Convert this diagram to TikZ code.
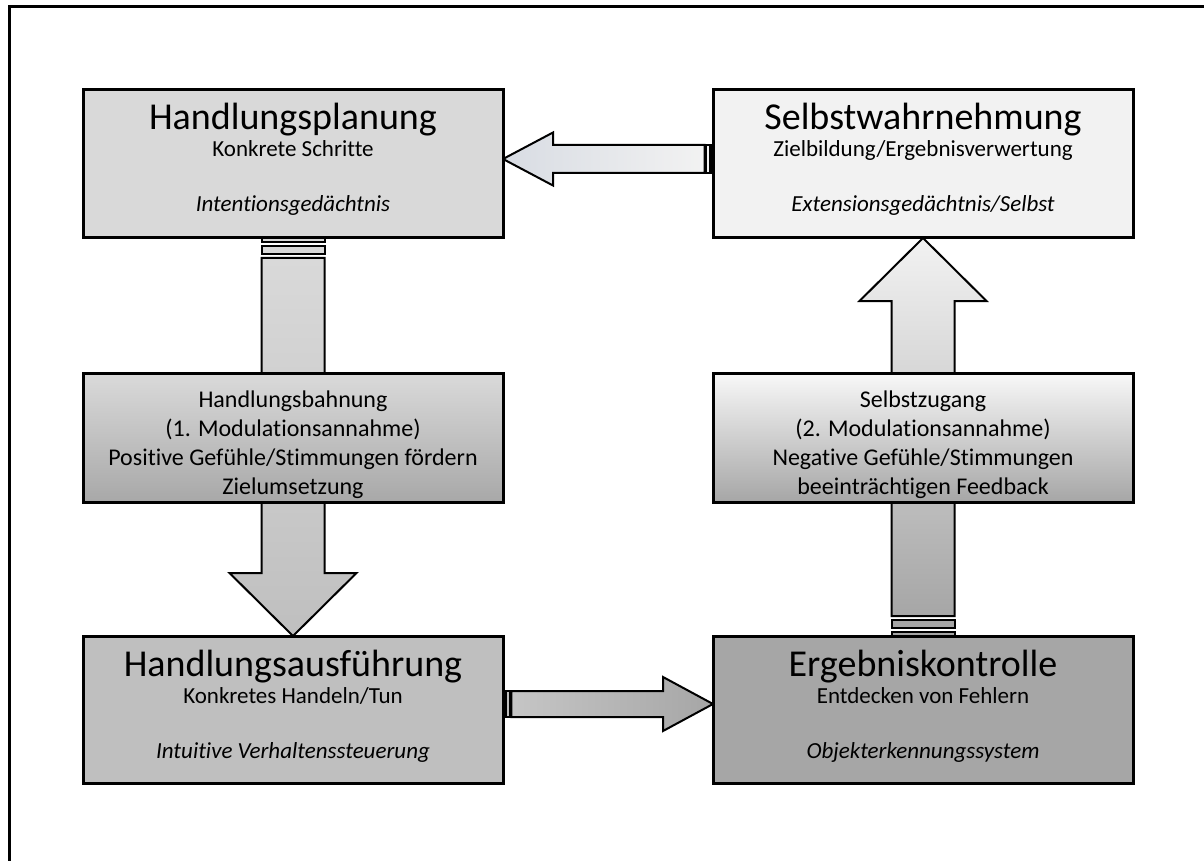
\documentclass[tikz,border=0pt]{standalone}
\usepackage{fontspec}
\setmainfont{Carlito}[Ligatures=NoCommon]
\usetikzlibrary{calc,backgrounds}

\definecolor{planfill}{HTML}{D9D9D9}
\definecolor{selffill}{HTML}{F2F2F2}
\definecolor{ausffill}{HTML}{BFBFBF}
\definecolor{kontfill}{HTML}{A6A6A6}
\definecolor{bahntop}{HTML}{DADADA}
\definecolor{bahnbot}{HTML}{A8A8A8}
\definecolor{zugtop}{HTML}{F8F8F8}
\definecolor{zugbot}{HTML}{A6A6A6}
\definecolor{arrblue}{HTML}{D8DCE3}

\begin{document}
\begin{tikzpicture}[x=0.5pt,y=-0.5pt,
  box/.style={draw=black, line width=1.5pt, minimum width=210pt, inner sep=0pt, outer sep=0pt},
  ttl/.style={anchor=base, inner sep=0pt, font=\fontsize{19}{21}\selectfont},
  sub/.style={anchor=base, inner sep=0pt, font=\fontsize{11.5}{13}\selectfont},
  mem/.style={anchor=base, inner sep=0pt, font=\fontsize{11.5}{13}\selectfont\itshape},
  mid/.style={anchor=base, inner sep=0pt, font=\fontsize{12}{14}\selectfont},
  blockarrow/.style={draw=black, line width=1pt, line join=miter},
]
\useasboundingbox (0,0) rectangle (1204,861);

% frame
\draw[line width=1.5pt] (9.5,870) -- (9.5,6.5) -- (1215,6.5);

% boxes
\node[box, fill=planfill, minimum height=74pt] (hp) at (293,164) {};
\node[box, fill=selffill, minimum height=74pt] (sw) at (923,164) {};
\node[box, top color=bahntop, bottom color=bahnbot, minimum height=64.5pt] (hb) at (293,437.5) {};
\node[box, top color=zugtop, bottom color=zugbot, minimum height=64.5pt] (sz) at (923,437.5) {};
\node[box, fill=ausffill, minimum height=73.5pt] (ha) at (293,709.5) {};
\node[box, fill=kontfill, minimum height=73.5pt] (ek) at (923,709.5) {};

% block arrows behind the boxes
\begin{pgfonlayer}{background}
  % Selbstwahrnehmung -> Handlungsplanung
  \coordinate (t1) at ($(sw.west)+(0,-5)$);
  \coordinate (p1) at ($(hp.east)+(0,-5)$);
  \draw[blockarrow, left color=arrblue, right color=selffill]
    (p1) -- ($(p1)+(50,-26.5)$) -- ($(p1)+(50,-14)$) -- ($(t1)+(-8.4,-14)$)
    -- ($(t1)+(-8.4,14)$) -- ($(p1)+(50,14)$) -- ($(p1)+(50,26.5)$) -- cycle;
  \draw[blockarrow, fill=selffill] ($(t1)+(-6.75,-14)$) rectangle ($(t1)+(-3.4,14)$);
  \draw[blockarrow, fill=selffill] ($(t1)+(-1.7,-14)$) rectangle ($(t1)+(0,14)$);

  % Handlungsausfuehrung -> Ergebniskontrolle
  \coordinate (t2) at ($(ha.east)+(0,-5.5)$);
  \coordinate (p2) at ($(ek.west)+(0,-5.5)$);
  \draw[blockarrow, left color=ausffill!90!white, right color=kontfill]
    (p2) -- ($(p2)+(-50,-27)$) -- ($(p2)+(-50,-13)$) -- ($(t2)+(8.4,-13)$)
    -- ($(t2)+(8.4,13)$) -- ($(p2)+(-50,13)$) -- ($(p2)+(-50,27)$) -- cycle;
  \draw[blockarrow, fill=ausffill] ($(t2)+(6.75,-13)$) rectangle ($(t2)+(3.4,13)$);
  \draw[blockarrow, fill=ausffill] ($(t2)+(1.7,-13)$) rectangle ($(t2)+(0,13)$);

  % Handlungsplanung -> Handlungsausfuehrung (through Handlungsbahnung)
  \coordinate (t3) at (hp.south);
  \coordinate (p3) at (ha.north);
  \draw[blockarrow, top color=planfill, bottom color=ausffill]
    (p3) -- ($(p3)+(-63.5,-63)$) -- ($(p3)+(-31.5,-63)$) -- ($(t3)+(-31.5,20)$)
    -- ($(t3)+(31.5,20)$) -- ($(p3)+(31.5,-63)$) -- ($(p3)+(63.5,-63)$) -- cycle;
  \draw[blockarrow, fill=planfill] ($(t3)+(-31.5,8)$) rectangle ($(t3)+(31.5,16)$);
  \draw[blockarrow, fill=planfill] ($(t3)+(-31.5,0)$) rectangle ($(t3)+(31.5,4)$);

  % Ergebniskontrolle -> Selbstwahrnehmung (through Selbstzugang)
  \coordinate (t4) at (ek.north);
  \coordinate (p4) at (sw.south);
  \draw[blockarrow, top color=selffill, bottom color=kontfill]
    (p4) -- ($(p4)+(-63.5,63)$) -- ($(p4)+(-31.5,63)$) -- ($(t4)+(-31.5,-20)$)
    -- ($(t4)+(31.5,-20)$) -- ($(p4)+(31.5,63)$) -- ($(p4)+(63.5,63)$) -- cycle;
  \draw[blockarrow, fill=kontfill] ($(t4)+(-31.5,-16)$) rectangle ($(t4)+(31.5,-8)$);
  \draw[blockarrow, fill=kontfill] ($(t4)+(-31.5,-4)$) rectangle ($(t4)+(31.5,0)$);
\end{pgfonlayer}

% texts
\node[ttl] (hp1) at (293,130) {Handlungsplanung};
\node[sub] (hp2) at (293,157) {Konkrete Schritte};
\node[mem] (hp3) at (293,212) {Intentionsgedächtnis};

\node[ttl] (sw1) at (923,130) {Selbstwahrnehmung};
\node[sub] (sw2) at (923,157) {Zielbildung/Ergebnisverwertung};
\node[mem] (sw3) at (923,212) {Extensionsgedächtnis/Selbst};

\node[mid] (hb1) at (293,407) {Handlungsbahnung};
\node[mid] (hb2) at (293,436) {(1. Modulationsannahme)};
\node[mid] (hb3) at (293,465) {Positive Gefühle/Stimmungen fördern};
\node[mid] (hb4) at (293,494) {Zielumsetzung};

\node[mid] (sz1) at (923,407) {Selbstzugang};
\node[mid] (sz2) at (923,436) {(2. Modulationsannahme)};
\node[mid] (sz3) at (923,465) {Negative Gefühle/Stimmungen};
\node[mid] (sz4) at (923,494) {beeinträchtigen Feedback};

\node[ttl] (ha1) at (293,676) {Handlungsausführung};
\node[sub] (ha2) at (293,703) {Konkretes Handeln/Tun};
\node[mem] (ha3) at (293,758) {Intuitive Verhaltenssteuerung};

\node[ttl] (ek1) at (923,676) {Ergebniskontrolle};
\node[sub] (ek2) at (923,703) {Entdecken von Fehlern};
\node[mem] (ek3) at (923,758) {Objekterkennungssystem};
\end{tikzpicture}
\end{document}
